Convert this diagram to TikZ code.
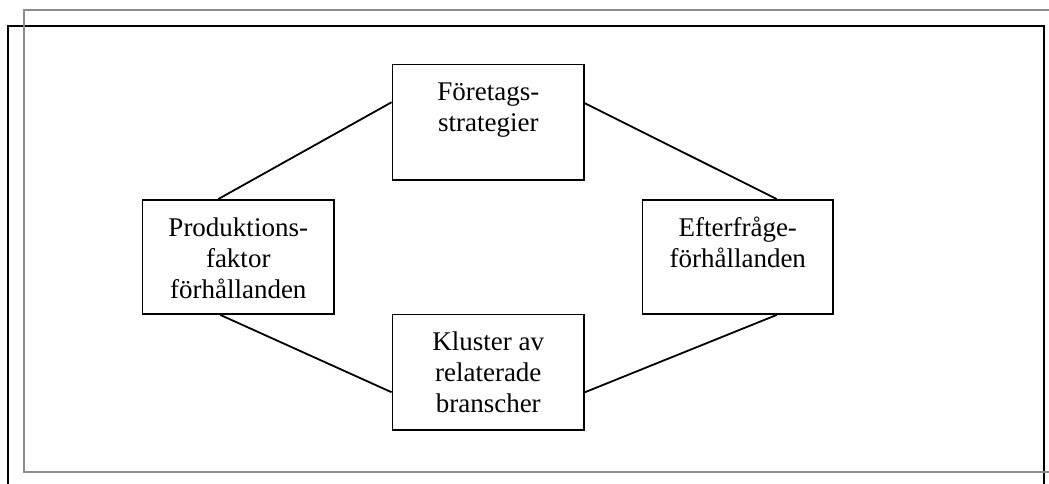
\documentclass[tikz,border=0pt]{standalone}
\usepackage{fontspec}
\setmainfont{Liberation Serif}
\tikzset{
  outerframe/.style={line width=1.8pt, draw=black!45},
  innerframe/.style={line width=1.8pt, draw=black},
  box/.style={draw, line width=1.8pt, inner sep=0pt, fill=white},
  link/.style={line width=1.8pt},
}
% text block of fixed size, lines centred, first baseline 36pt below the top
\newcommand{\boxtext}[3]{%
  \begin{minipage}[t][#2pt][t]{#1pt}\centering
  \fontsize{27}{31}\selectfont\rule{0pt}{36pt}#3\end{minipage}}
\begin{document}
\begin{tikzpicture}[x=1pt,y=-1pt]
\useasboundingbox (0,0) rectangle (1049,484);
\clip (0,0) rectangle (1049,484);
% two offset frames
\draw[innerframe] (8,26) rectangle (1044,495);
\draw[outerframe] (24,10) rectangle (1060,472);
% the four determinants
\node[box] (top)    at (488.25,122.25) {\boxtext{191.5}{115.5}{Företags-\\strategier}};
\node[box] (left)   at (238.25,257)    {\boxtext{191.5}{114}{Produktions-\\faktor\\förhållanden}};
\node[box] (right)  at (737.75,257)    {\boxtext{190.5}{114}{Efterfråge-\\förhållanden}};
\node[box] (bottom) at (488.25,372.25) {\boxtext{191.5}{115.5}{Kluster av\\relaterade\\branscher}};
% links between them
\draw[link] ([xshift=-20pt]left.north) -- ([yshift=20pt]top.west);
\draw[link] ([yshift=19pt]top.east) -- ([xshift=39pt]right.north);
\draw[link] ([xshift=-18pt]left.south) -- ([yshift=-20pt]bottom.west);
\draw[link] ([yshift=-20pt]bottom.east) -- ([xshift=39pt]right.south);
\end{tikzpicture}
\end{document}
